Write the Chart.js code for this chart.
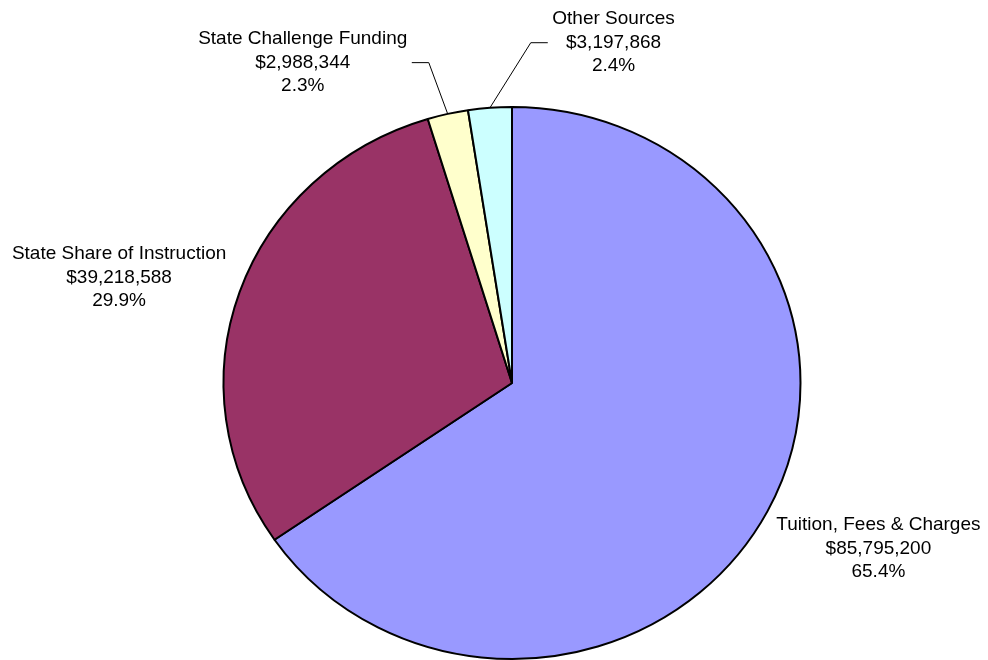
<!DOCTYPE html>
<html>
<head>
<meta charset="utf-8">
<script src="https://cdn.jsdelivr.net/npm/chart.js@4.4.0/dist/chart.umd.min.js"></script>
<style>
  html, body { margin: 0; padding: 0; background: #fff; }
  #wrap { width: 988px; height: 660px; }
</style>
</head>
<body>
<div id="wrap"><canvas id="fundChart"></canvas></div>
<script>
// data
const categories = ['Tuition, Fees & Charges', 'State Share of Instruction', 'State Challenge Funding', 'Other Sources'];
const amounts = [85795200, 39218588, 2988344, 3197868];
const sliceColors = ['#9999FF', '#993366', '#FFFFCC', '#CCFFFF'];

// squash factor of the pie (it is a little wider than tall)
const yScale = 276 / 288.5;

// label placement relative to the slice's edge midpoint (dx, dy of the middle line)
const labelOffsets = [
  { dx: 111, dy: 37, leader: false },
  { dx: -120.5, dy: -14.5, leader: false },
  { dx: -145, dy: -51.3, leader: 'left' },
  { dx: 123.6, dy: -65.1, leader: 'right' }
];

const FONT = '19px "Liberation Sans", Arial, sans-serif';
const LINE_H = 23.5;

function money(v) {
  return '$' + v.toLocaleString('en-US');
}

// draw the pie as a slight ellipse
const squashPlugin = {
  id: 'squash',
  beforeDatasetsDraw(chart) {
    const arc = chart.getDatasetMeta(0).data[0];
    if (!arc) return;
    const ctx = chart.ctx;
    ctx.save();
    ctx.translate(arc.x, arc.y);
    ctx.scale(1, yScale);
    ctx.translate(-arc.x, -arc.y);
  },
  afterDatasetsDraw(chart) {
    chart.ctx.restore();
  }
};

// outside labels with leader lines
const labelPlugin = {
  id: 'outLabels',
  afterDraw(chart) {
    const ctx = chart.ctx;
    const meta = chart.getDatasetMeta(0);
    const total = amounts.reduce((a, b) => a + b, 0);
    ctx.save();
    ctx.font = FONT;
    ctx.fillStyle = '#000';
    ctx.textAlign = 'center';
    ctx.textBaseline = 'middle';
    meta.data.forEach((arc, i) => {
      const p = arc.getProps(['x', 'y', 'startAngle', 'endAngle', 'outerRadius'], true);
      const mid = (p.startAngle + p.endAngle) / 2;
      const px = p.x + Math.cos(mid) * p.outerRadius;
      const py = p.y + Math.sin(mid) * p.outerRadius * yScale;
      const off = labelOffsets[i];
      const cx = px + off.dx;
      const cy = py + off.dy;
      const lines = [categories[i], money(amounts[i]), (amounts[i] / total * 100).toFixed(1) + '%'];
      lines.forEach((t, k) => ctx.fillText(t, cx, cy + (k - 1) * LINE_H));

      if (off.leader) {
        const w = Math.max(...lines.map(t => ctx.measureText(t).width));
        const edge = off.leader === 'left' ? cx + w / 2 : cx - w / 2;
        const dir = off.leader === 'left' ? 1 : -1;
        ctx.beginPath();
        ctx.lineWidth = 1;
        ctx.strokeStyle = '#000';
        ctx.moveTo(px, py);
        ctx.lineTo(edge + dir * 21.5, cy);
        ctx.lineTo(edge + dir * 4.5, cy);
        ctx.stroke();
      }
    });
    ctx.restore();
  }
};

const ctx = document.getElementById('fundChart').getContext('2d');
new Chart(ctx, {
  type: 'pie',
  data: {
    labels: categories,
    datasets: [{
      data: amounts,
      backgroundColor: sliceColors,
      borderColor: '#000',
      borderWidth: 2,
      clip: false
    }]
  },
  options: {
    responsive: true,
    maintainAspectRatio: false,
    animation: false,
    events: [],
    radius: 288.5,
    layout: { padding: { left: 36, right: 0, top: 106, bottom: 0 } },
    plugins: {
      legend: { display: false },
      tooltip: { enabled: false }
    }
  },
  plugins: [squashPlugin, labelPlugin]
});
</script>
</body>
</html>
